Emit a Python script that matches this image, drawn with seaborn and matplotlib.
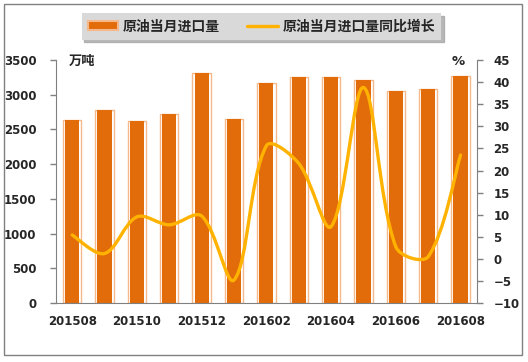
import numpy as np
import matplotlib
matplotlib.use('Agg')
import matplotlib.pyplot as plt
import seaborn as sns
from matplotlib.path import Path
from matplotlib.patches import PathPatch, Rectangle, Patch
from matplotlib.lines import Line2D

MONTHS = ['201508', '201509', '201510', '201511', '201512', '201601', '201602',
          '201603', '201604', '201605', '201606', '201607', '201608']
IMPORTS = [2640, 2780, 2625, 2720, 3310, 2655, 3170, 3250, 3250, 3210, 3050, 3090, 3270]
GROWTH = [5.4, 1.2, 9.5, 7.7, 9.7, -4.8, 25.6, 21.6, 7.3, 38.8, 2.7, 0.5, 23.5]
LABEL_BAR = '原油当月进口量'
LABEL_LINE = '原油当月进口量同比增长'

DARK = '#E26B0A'
PEACH = '#F5B88A'
GOLD = '#FFB300'
AXIS = '#808080'

sns.set_style('white')
plt.rcParams['font.family'] = ['DejaVu Sans', 'Noto Sans CJK SC']
plt.rcParams['font.weight'] = 'bold'

fig = plt.figure(figsize=(5.28, 3.62), dpi=100)
ax = fig.add_axes([0.106, 0.163, 0.797, 0.671])

# outer bar (peach border, white gap) + inner dark bar
sns.barplot(x=MONTHS, y=IMPORTS, ax=ax, width=0.57, color='white', saturation=1,
            edgecolor=PEACH, linewidth=1.0)
sns.barplot(x=MONTHS, y=IMPORTS, ax=ax, width=0.44, color=DARK, saturation=1,
            linewidth=0)
ax.set_xlim(-0.5, 12.5)
ax.set_ylim(0, 3500)
ax.set_yticks(range(0, 3501, 500))
ax.set_xticks(range(0, 13, 2))
ax.set_xticklabels(MONTHS[::2])
ax.set_xlabel('')
ax.set_ylabel('')
ax.tick_params(axis='x', length=0, pad=9, labelsize=8.5)
ax.tick_params(axis='y', length=4, width=1, color=AXIS, direction='out', labelsize=8.5, pad=10)
for lab in ax.get_xticklabels() + ax.get_yticklabels():
    lab.set_fontweight('bold')
for s in ['left', 'bottom', 'right']:
    ax.spines[s].set_color(AXIS)
ax.spines['top'].set_visible(False)
ax.text(0.03, 0.995, '万吨', transform=ax.transAxes, fontsize=9.5, fontweight='bold',
        va='center', ha='left')

ax2 = ax.twinx()
ax2.set_ylim(-10, 45)
ax2.set_yticks(range(-10, 46, 5))
ax2.tick_params(axis='y', length=4, width=1, color=AXIS, direction='out', labelsize=8.5, pad=8)
for lab in ax2.get_yticklabels():
    lab.set_fontweight('bold')
for s in ax2.spines.values():
    s.set_visible(False)
ax2.text(0.955, 0.995, '%', transform=ax2.transAxes, fontsize=9.5, fontweight='bold',
         va='center', ha='center')

# smoothed line, Excel style: Bezier through the points, tangents weighted by
# the on-screen segment lengths
pts = np.column_stack([np.arange(len(GROWTH), dtype=float), np.array(GROWTH, dtype=float)])
P = ax2.transData.transform(pts)
n = len(P)
verts = [P[0]]
codes = [Path.MOVETO]
for i in range(n - 1):
    p0 = P[max(i - 1, 0)]
    p1 = P[i]
    p2 = P[i + 1]
    p3 = P[min(i + 2, n - 1)]
    l01 = np.hypot(*(p1 - p0))
    l12 = np.hypot(*(p2 - p1))
    l23 = np.hypot(*(p3 - p2))
    w1 = l12 / (l01 + l12) if l01 > 0 else 0.5
    w2 = l12 / (l12 + l23) if l23 > 0 else 0.5
    c1 = p1 + (p2 - p0) * w1 / 3.0
    c2 = p2 - (p3 - p1) * w2 / 3.0
    verts += [c1, c2, p2]
    codes += [Path.CURVE4] * 3
verts = ax2.transData.inverted().transform(np.array(verts))
ax2.add_patch(PathPatch(Path(verts, codes), facecolor='none', edgecolor=GOLD,
                        linewidth=2.4, capstyle='round', joinstyle='round'))

handles = [Patch(facecolor=DARK, edgecolor=PEACH, linewidth=1.5),
           Line2D([0], [0], color=GOLD, linewidth=2.4)]
leg = fig.legend(handles, [LABEL_BAR, LABEL_LINE], loc='center', bbox_to_anchor=(0.495, 0.927),
                 ncol=2, frameon=True, fancybox=False, facecolor='#D9D9D9', edgecolor='none',
                 shadow={'color': '#A6A6A6', 'alpha': 0.8}, prop={'size': 10, 'weight': 'bold'},
                 handlelength=2.2, handleheight=0.6, columnspacing=2.0, borderpad=0.45,
                 handletextpad=0.3)
leg.get_frame().set_alpha(1)

fig.patches.append(Rectangle((4 / 528, 1 - 355 / 362), 518 / 528, 351 / 362,
                             transform=fig.transFigure, fill=False, edgecolor=AXIS,
                             linewidth=1, zorder=0))

fig.savefig('out.png', dpi=100)
